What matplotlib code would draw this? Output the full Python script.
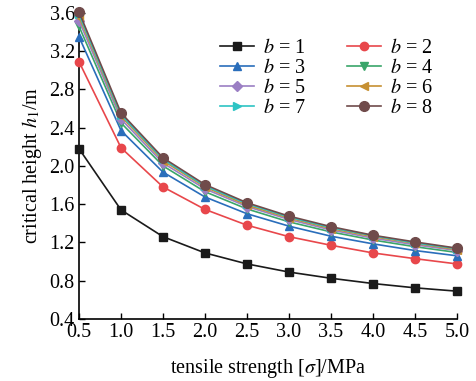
import matplotlib
matplotlib.use("Agg")
import matplotlib.pyplot as plt

plt.rcParams['font.family'] = ['Liberation Serif', 'DejaVu Serif']
plt.rcParams['mathtext.fontset'] = 'stix'

sigma = [0.5, 1.0, 1.5, 2.0, 2.5, 3.0, 3.5, 4.0, 4.5, 5.0]
b_labels = ['1', '2', '3', '4', '5', '6', '7', '8']
h_b1 = [2.18, 1.54, 1.26, 1.09, 0.975, 0.89, 0.825, 0.77, 0.725, 0.69]
h_b2 = [3.09, 2.19, 1.78, 1.545, 1.38, 1.26, 1.17, 1.09, 1.03, 0.975]
h_b3 = [3.35, 2.37, 1.935, 1.675, 1.50, 1.37, 1.265, 1.185, 1.115, 1.06]
h_b4 = [3.46, 2.45, 2.0, 1.73, 1.55, 1.415, 1.31, 1.225, 1.155, 1.095]
h_b5 = [3.52, 2.49, 2.03, 1.76, 1.575, 1.44, 1.33, 1.245, 1.175, 1.115]
h_b6 = [3.56, 2.52, 2.055, 1.78, 1.59, 1.455, 1.345, 1.26, 1.19, 1.125]
h_b7 = [3.585, 2.535, 2.07, 1.79, 1.605, 1.465, 1.355, 1.27, 1.195, 1.135]
h_b8 = [3.61, 2.555, 2.085, 1.805, 1.615, 1.475, 1.365, 1.275, 1.205, 1.14]
series = [h_b1, h_b2, h_b3, h_b4, h_b5, h_b6, h_b7, h_b8]

colors = ['#1a1a1a', '#e8474b', '#2a6ebb', '#3aa56a', '#9b7fc4', '#c69032', '#2ec4c4', '#704b4b']
markers = ['s', 'o', '^', 'v', 'D', '<', '>', 'o']
msizes = [6, 6, 6, 6, 5, 6, 6, 7]

fig = plt.figure(figsize=(4.76, 3.81), dpi=100)
ax = fig.add_axes([0.166, 0.163, 0.794, 0.803])

handles = []
for ys, c, m, ms, lab in zip(series, colors, markers, msizes, b_labels):
    ln, = ax.plot(sigma, ys, color=c, marker=m, markersize=ms, linewidth=1.2,
                  label=r'$b$ = ' + lab, clip_on=False, zorder=3)
    handles.append(ln)

ax.set_xlim(0.5, 5.0)
ax.set_ylim(0.4, 3.6)
ax.set_xticks(sigma)
ax.set_xticklabels([f'{v:.1f}' for v in sigma])
yt = [0.4, 0.8, 1.2, 1.6, 2.0, 2.4, 2.8, 3.2, 3.6]
ax.set_yticks(yt)
ax.set_yticklabels([f'{v:.1f}' for v in yt])
for s in ['top', 'right']:
    ax.spines[s].set_visible(False)
for s in ['left', 'bottom']:
    ax.spines[s].set_linewidth(1.2)
ax.tick_params(direction='in', labelsize=14.5, length=4, width=1, pad=3)
ax.set_xlabel(r'tensile strength [$\sigma$]/MPa', fontsize=14.5, labelpad=11)
ax.set_ylabel(r'critical height $h_1$/m', fontsize=14.5, labelpad=4)

# row-major order for a 2-column legend
order = [0, 2, 4, 6, 1, 3, 5, 7]
ax.legend([handles[i] for i in order], [handles[i].get_label() for i in order],
          ncol=2, frameon=False, fontsize=14.5, loc='upper left',
          bbox_to_anchor=(0.373, 0.915), borderpad=0, borderaxespad=0,
          handlelength=1.7, columnspacing=2.0,
          labelspacing=0.05, handletextpad=0.45)

fig.savefig('out.png', dpi=100)
